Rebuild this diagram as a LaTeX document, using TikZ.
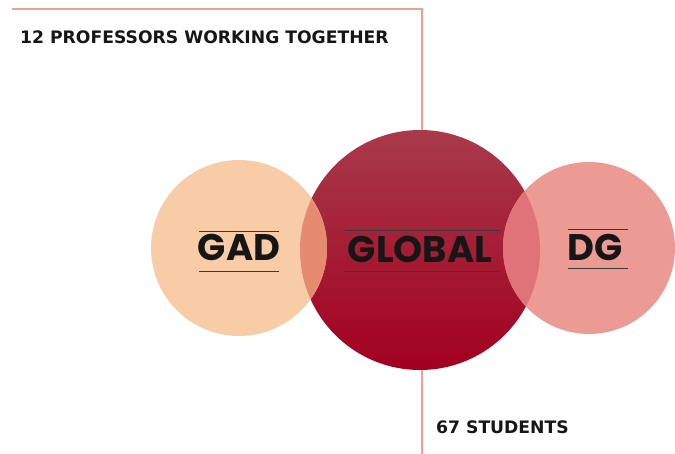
\documentclass[tikz,border=0pt]{standalone}
\usepackage{fontspec}
\setmainfont{DejaVu Sans}
\newfontfamily\labelfont{Poppins}
\definecolor{peach}{HTML}{F9CCA8}
\definecolor{redtop}{HTML}{A83A4C}
\definecolor{redbot}{HTML}{A2001F}
\definecolor{rose}{HTML}{EC9A94}
\definecolor{peachmix}{HTML}{E48B70}
\definecolor{rosemix}{HTML}{E0737A}
\definecolor{frame}{HTML}{F0A08E}
\definecolor{ink}{HTML}{161616}
\tikzset{
  x=1pt, y=-1pt,
  frameline/.style={draw=frame, line width=1.3pt},
  rule/.style={draw=ink!85, line width=0.9pt},
  caption/.style={anchor=west, inner sep=0pt, text=ink, font=\bfseries\fontsize{17.2}{17.2}\selectfont},
  circlabel/.style={inner sep=0pt, text=ink, font=\labelfont\bfseries\fontsize{37}{37}\selectfont},
}
\begin{document}
\begin{tikzpicture}
\useasboundingbox (0,0) rectangle (675,454);
% frame lines
\coordinate (ftl) at (12,9);
\coordinate (ftr) at (422,9);
\coordinate (fmid) at (422,150);
\coordinate (fbot1) at (422,350);
\coordinate (fbot2) at (422,454);
\draw[frameline] (ftl) -- (ftr) -- (fmid);
\draw[frameline] (fbot1) -- (fbot2);
% circles: the outer ones lie over the central one
\coordinate (cgad) at (239,248);
\coordinate (cglob) at (420,250);
\coordinate (cdg) at (589,248);
\shade[top color=redtop, bottom color=redbot] (cglob) circle (120);
\fill[peach] (cgad) circle (88);
\fill[rose] (cdg) circle (86);
% overlapping lenses
\begin{scope}
  \clip (cglob) circle (120);
  \fill[peachmix] (cgad) circle (88);
  \fill[rosemix] (cdg) circle (86);
\end{scope}
% labels
\node[circlabel] (gad) at (239,247) {GAD};
\node[circlabel] (glob) at (420,249) {GLOBAL};
\node[circlabel] (dg) at (595,247) {DG};
\draw[rule] (199,231) -- (279,231) (199,271) -- (279,271);
\draw[rule] (345,230) -- (500,230) (345,271) -- (500,271);
\draw[rule] (568,229) -- (628,229) (568,268) -- (628,268);
\node[caption] (prof) at (20,37) {12 PROFESSORS WORKING TOGETHER};
\node[caption] (stud) at (436,427) {67 STUDENTS};
\end{tikzpicture}
\end{document}
